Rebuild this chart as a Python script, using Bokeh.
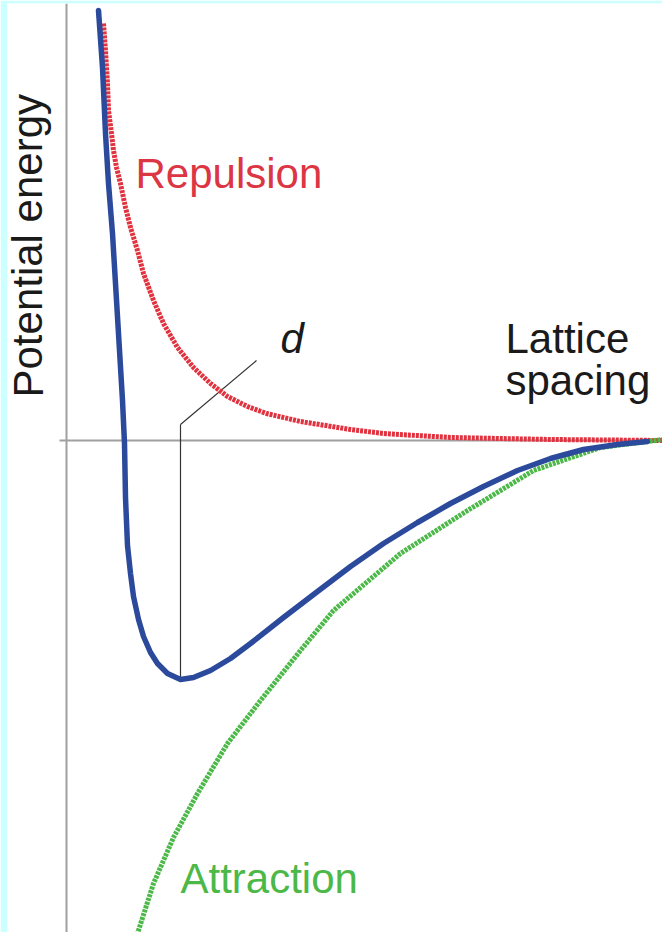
from bokeh.plotting import figure
from bokeh.models import Range1d, Span
from bokeh.core.properties import value
from bokeh.embed import file_html
from bokeh.resources import INLINE

# Lattice spacing (arbitrary units) and potential energy (arbitrary units)
total_r = [0.32, 0.36, 0.39, 0.42, 0.46, 0.49, 0.52, 0.56, 0.58, 0.59, 0.61, 0.64, 0.67, 0.72, 0.77,
           0.84, 0.91, 1.01, 1.14, 1.27, 1.44, 1.64, 1.84, 2.17, 2.51, 2.84, 3.17, 3.51, 3.84, 4.17,
           4.51, 4.84, 5.17, 5.51, 5.81]
total_E = [4.30, 3.73, 3.07, 2.57, 2.07, 1.57, 1.07, 0.40, -0.03, -0.57, -1.05, -1.33, -1.56, -1.79, -1.96,
           -2.12, -2.23, -2.33, -2.39, -2.37, -2.30, -2.18, -2.03, -1.77, -1.51, -1.26, -1.03, -0.82, -0.63, -0.46,
           -0.30, -0.18, -0.09, -0.04, -0.01]

repulsion_r = [0.37, 0.39, 0.41, 0.42, 0.45, 0.47, 0.50, 0.54, 0.59, 0.64, 0.71, 0.77, 0.87, 0.97, 1.11,
               1.27, 1.44, 1.61, 1.81, 2.00, 2.34, 2.84, 3.17, 3.84, 4.84, 5.96]
repulsion_E = [4.17, 3.90, 3.57, 3.30, 3.07, 2.90, 2.73, 2.57, 2.33, 2.13, 1.90, 1.67, 1.40, 1.17, 0.93,
               0.73, 0.57, 0.44, 0.34, 0.27, 0.19, 0.11, 0.07, 0.03, 0.01, 0.0]

attraction_r = [0.66, 0.71, 0.87, 1.07, 1.31, 1.61, 1.94, 2.34, 2.67, 3.34, 4.01, 4.67, 5.34, 5.96]
attraction_E = [-5.10, -4.93, -4.43, -3.97, -3.53, -3.03, -2.60, -2.10, -1.70, -1.13, -0.70, -0.30, -0.07, 0.01]

FONT = value("Liberation Sans")
SIZE = "42px"

p = figure(width=662, height=932, x_range=Range1d(-0.59, 5.96), y_range=Range1d(-4.92, 4.37),
           output_backend="svg", toolbar_location=None,
           min_border_left=7, min_border_top=3, min_border_right=0, min_border_bottom=0)
p.axis.visible = False
p.grid.visible = False
p.outline_line_color = None
p.background_fill_color = "white"
p.border_fill_color = "#ccffff"

# axes drawn as plain gray lines
p.add_layout(Span(location=0, dimension="height", line_color="#a0a0a0", line_width=2))
p.segment(x0=[-0.07], y0=[0], x1=[5.96], y1=[0], line_color="#a0a0a0", line_width=2)

# d marker at the minimum of the total curve
imin = total_E.index(min(total_E))
r0, e0 = total_r[imin], total_E[imin]
p.segment(x0=[r0, r0], y0=[e0, 0.16], x1=[r0, r0 + 0.76], y1=[0.16, 0.80], line_color="#333333", line_width=1.2)

p.line(repulsion_r, repulsion_E, line_color="#e0323f", line_width=5, line_dash="3 1")
p.line(attraction_r, attraction_E, line_color="#4cb848", line_width=5, line_dash="3 1")
p.line(total_r, total_E, line_color="#2c4a9c", line_width=5.5, line_cap="round", line_join="round")

p.text(x=[0.69], y=[2.675], text=["Repulsion"], text_font=FONT, text_font_size=SIZE,
       text_color="#dc3543", text_baseline="middle")
p.text(x=[1.14], y=[-4.38], text=["Attraction"], text_font=FONT, text_font_size=SIZE,
       text_color="#4cb848", text_baseline="middle")
p.text(x=[4.39, 4.39], y=[1.02, 0.60], text=["Lattice", "spacing"], text_font=FONT, text_font_size=SIZE,
       text_color="#1a1a1a", text_baseline="middle")
p.text(x=[2.14], y=[1.02], text=["d"], text_font=FONT, text_font_size=SIZE, text_font_style="italic",
       text_color="#1a1a1a", text_baseline="middle")
p.text(x=[-0.385], y=[0.43], text=["Potential energy"], text_font=FONT, text_font_size=SIZE,
       text_color="#1a1a1a", text_baseline="middle", angle=1.5708)

open("out.html", "w").write(file_html(p, INLINE))
